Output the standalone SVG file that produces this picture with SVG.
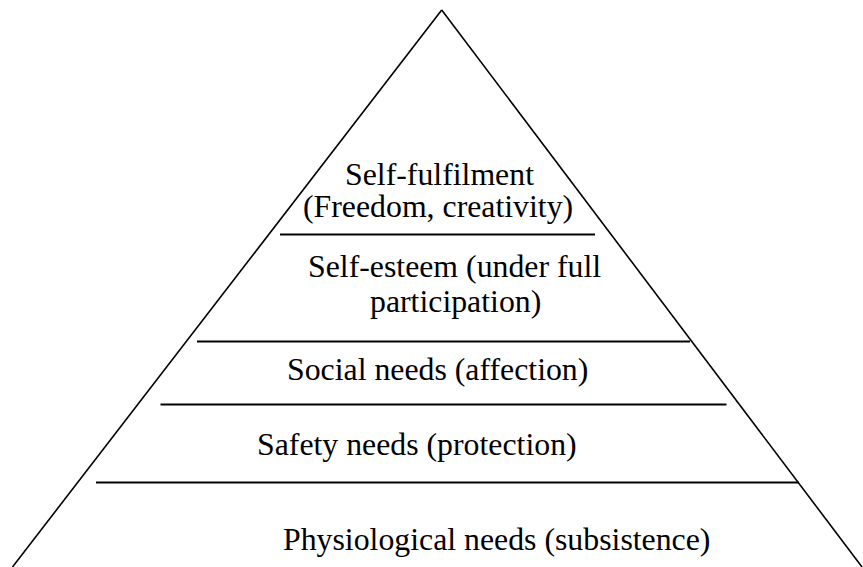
<svg xmlns="http://www.w3.org/2000/svg" width="863" height="567" viewBox="0 0 863 567">
<style>
.side{stroke:#000;stroke-width:1.6;fill:none}
.div{stroke:#000;stroke-width:2;fill:none}
text{font-family:"Liberation Serif","Times New Roman",serif;font-size:31.8px;fill:#000}
</style>
<rect width="863" height="567" fill="#fff"/>
<g id="connectors">
<line class="side" x1="441.7" y1="10" x2="12.5" y2="567"/>
<line class="side" x1="441.7" y1="10" x2="862" y2="567"/>
<line class="div" x1="280" y1="234.5" x2="595" y2="234.5"/>
<line class="div" x1="197" y1="341.5" x2="690" y2="341.5"/>
<line class="div" x1="160.5" y1="404.5" x2="726.5" y2="404.5"/>
<line class="div" x1="96" y1="482.5" x2="799" y2="482.5"/>
</g>
<g id="self-fulfilment">
<text x="345" y="185">Self-fulfilment</text>
<text x="303" y="217">(Freedom, creativity)</text>
</g>
<g id="self-esteem">
<text x="308" y="277">Self-esteem (under full</text>
<text x="370" y="312">participation)</text>
</g>
<g id="social">
<text x="287" y="380">Social needs (affection)</text>
</g>
<g id="safety">
<text x="257" y="455">Safety needs (protection)</text>
</g>
<g id="physiological">
<text x="283" y="550">Physiological needs (subsistence)</text>
</g>
</svg>
